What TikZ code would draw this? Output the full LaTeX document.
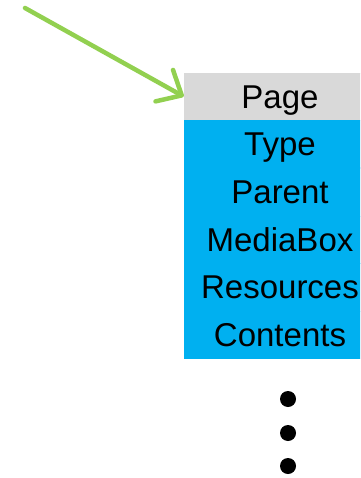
\documentclass[tikz,border=0pt]{standalone}
\usepackage{fontspec}
\setmainfont{Liberation Sans}
\usetikzlibrary{positioning,arrows.meta}
\definecolor{kopfgrau}{HTML}{D9D9D9}
\definecolor{feldblau}{HTML}{00B0F0}
\definecolor{pfeilgruen}{HTML}{92D050}
\tikzset{
  feld/.style={fill=feldblau, draw=feldblau, line width=0.6pt, minimum width=192pt,
    minimum height=47pt, inner sep=0pt,
    font=\fontsize{33}{37}\selectfont, text height=23.5pt, text depth=0pt},
  kopf/.style={feld, fill=kopfgrau, draw=kopfgrau},
  punkt/.style={circle, fill=black, minimum size=16pt, inner sep=0pt}
}
\begin{document}
\begin{tikzpicture}[x=1pt, y=-1pt]
\useasboundingbox (0,0) rectangle (360,478);
\clip (0,0) rectangle (360,478);
% Kasten
\node[kopf] (page) at (280,96.5) {Page};
\node[feld, below=0pt of page] (type) {Type};
\node[feld, below=0pt of type] (parent) {Parent};
\node[feld, below=0pt of parent] (mediabox) {MediaBox};
\node[feld, below=0pt of mediabox] (resources) {Resources};
\node[feld, below=0pt of resources] (contents) {Contents};
% Pfeil
\coordinate (start) at (25,8);
\draw[pfeilgruen, line width=4.5pt, line cap=round,
  -{Straight Barb[length=20pt, width=36pt, round]}] (start) -- (page.west);
% Punkte
\foreach \y/\n in {399/1, 433/2, 466/3}
  \node[punkt] (dot\n) at (288,\y) {};
\end{tikzpicture}
\end{document}
